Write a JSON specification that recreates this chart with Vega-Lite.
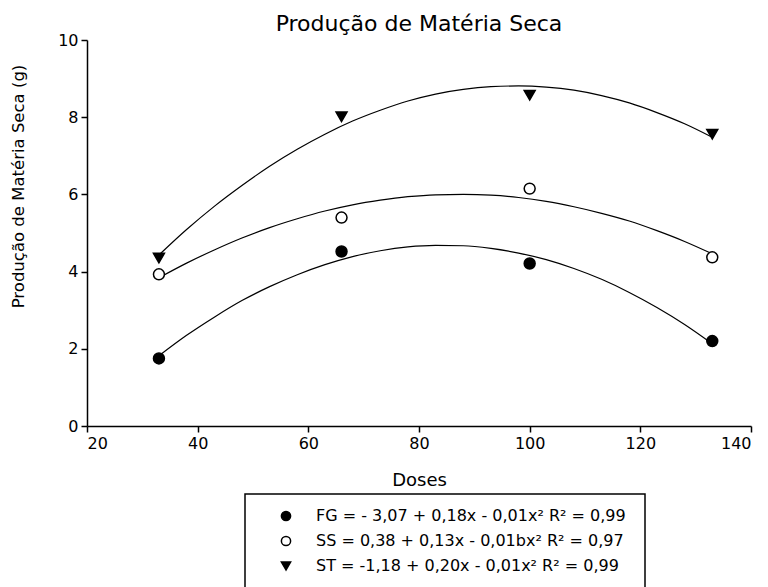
{
  "$schema": "https://vega.github.io/schema/vega-lite/v6.json",
  "autosize": {"type": "none"},
  "padding": {"left": 87, "top": 40, "right": 17, "bottom": 161},
  "width": 664,
  "height": 386,
  "background": "white",
  "title": {
    "text": "Produção de Matéria Seca",
    "font": "DejaVu Sans",
    "fontSize": 22,
    "fontWeight": "normal",
    "color": "black",
    "anchor": "middle",
    "offset": -4
  },
  "config": {
    "view": {"stroke": null},
    "font": "DejaVu Sans",
    "axis": {
      "grid": false,
      "domainColor": "black",
      "domainWidth": 1.5,
      "tickColor": "black",
      "tickWidth": 1.5,
      "tickSize": 6,
      "labelColor": "black",
      "labelFont": "DejaVu Sans",
      "labelFontSize": 16,
      "labelPadding": 3,
      "titleColor": "black",
      "titleFont": "DejaVu Sans",
      "titleFontSize": 17,
      "titleFontWeight": "normal"
    },
    "legend": {
      "orient": "none",
      "legendX": 158,
      "legendY": 454,
      "strokeColor": "black",
      "strokeWidth": 1.5,
      "padding": 14,
      "direction": "vertical",
      "labelFont": "DejaVu Sans",
      "labelFontSize": 16,
      "labelColor": "black",
      "labelLimit": 600,
      "labelOffset": 22,
      "symbolOffset": 19,
      "rowPadding": 9,
      "symbolSize": 85,
      "symbolStrokeColor": "black",
      "symbolStrokeWidth": 1.5
    }
  },
  "datasets": {
    "pontos": [
      {"dose": 33, "mseca": 1.75, "serie": "FG"},
      {"dose": 66, "mseca": 4.52, "serie": "FG"},
      {"dose": 100, "mseca": 4.21, "serie": "FG"},
      {"dose": 133, "mseca": 2.20, "serie": "FG"},
      {"dose": 33, "mseca": 3.93, "serie": "SS"},
      {"dose": 66, "mseca": 5.40, "serie": "SS"},
      {"dose": 100, "mseca": 6.15, "serie": "SS"},
      {"dose": 133, "mseca": 4.37, "serie": "SS"},
      {"dose": 33, "mseca": 4.35, "serie": "ST"},
      {"dose": 66, "mseca": 8.01, "serie": "ST"},
      {"dose": 100, "mseca": 8.57, "serie": "ST"},
      {"dose": 133, "mseca": 7.56, "serie": "ST"}
    ],
    "curvas": [
      {"dose": 33, "mseca": 1.82, "serie": "FG"},
      {"dose": 38, "mseca": 2.35, "serie": "FG"},
      {"dose": 43, "mseca": 2.82, "serie": "FG"},
      {"dose": 48, "mseca": 3.25, "serie": "FG"},
      {"dose": 53, "mseca": 3.61, "serie": "FG"},
      {"dose": 58, "mseca": 3.92, "serie": "FG"},
      {"dose": 63, "mseca": 4.18, "serie": "FG"},
      {"dose": 68, "mseca": 4.39, "serie": "FG"},
      {"dose": 73, "mseca": 4.54, "serie": "FG"},
      {"dose": 78, "mseca": 4.64, "serie": "FG"},
      {"dose": 83, "mseca": 4.68, "serie": "FG"},
      {"dose": 88, "mseca": 4.67, "serie": "FG"},
      {"dose": 93, "mseca": 4.60, "serie": "FG"},
      {"dose": 98, "mseca": 4.48, "serie": "FG"},
      {"dose": 103, "mseca": 4.31, "serie": "FG"},
      {"dose": 108, "mseca": 4.08, "serie": "FG"},
      {"dose": 113, "mseca": 3.80, "serie": "FG"},
      {"dose": 118, "mseca": 3.46, "serie": "FG"},
      {"dose": 123, "mseca": 3.07, "serie": "FG"},
      {"dose": 128, "mseca": 2.63, "serie": "FG"},
      {"dose": 133, "mseca": 2.13, "serie": "FG"},
      {"dose": 33, "mseca": 3.84, "serie": "SS"},
      {"dose": 38, "mseca": 4.22, "serie": "SS"},
      {"dose": 43, "mseca": 4.56, "serie": "SS"},
      {"dose": 48, "mseca": 4.87, "serie": "SS"},
      {"dose": 53, "mseca": 5.14, "serie": "SS"},
      {"dose": 58, "mseca": 5.37, "serie": "SS"},
      {"dose": 63, "mseca": 5.57, "serie": "SS"},
      {"dose": 68, "mseca": 5.73, "serie": "SS"},
      {"dose": 73, "mseca": 5.85, "serie": "SS"},
      {"dose": 78, "mseca": 5.94, "serie": "SS"},
      {"dose": 83, "mseca": 5.99, "serie": "SS"},
      {"dose": 88, "mseca": 6.00, "serie": "SS"},
      {"dose": 93, "mseca": 5.98, "serie": "SS"},
      {"dose": 98, "mseca": 5.92, "serie": "SS"},
      {"dose": 103, "mseca": 5.82, "serie": "SS"},
      {"dose": 108, "mseca": 5.68, "serie": "SS"},
      {"dose": 113, "mseca": 5.51, "serie": "SS"},
      {"dose": 118, "mseca": 5.31, "serie": "SS"},
      {"dose": 123, "mseca": 5.06, "serie": "SS"},
      {"dose": 128, "mseca": 4.78, "serie": "SS"},
      {"dose": 133, "mseca": 4.46, "serie": "SS"},
      {"dose": 33, "mseca": 4.43, "serie": "ST"},
      {"dose": 38, "mseca": 5.09, "serie": "ST"},
      {"dose": 43, "mseca": 5.69, "serie": "ST"},
      {"dose": 48, "mseca": 6.23, "serie": "ST"},
      {"dose": 53, "mseca": 6.73, "serie": "ST"},
      {"dose": 58, "mseca": 7.17, "serie": "ST"},
      {"dose": 63, "mseca": 7.56, "serie": "ST"},
      {"dose": 68, "mseca": 7.90, "serie": "ST"},
      {"dose": 73, "mseca": 8.18, "serie": "ST"},
      {"dose": 78, "mseca": 8.42, "serie": "ST"},
      {"dose": 83, "mseca": 8.60, "serie": "ST"},
      {"dose": 88, "mseca": 8.72, "serie": "ST"},
      {"dose": 93, "mseca": 8.79, "serie": "ST"},
      {"dose": 98, "mseca": 8.81, "serie": "ST"},
      {"dose": 103, "mseca": 8.78, "serie": "ST"},
      {"dose": 108, "mseca": 8.70, "serie": "ST"},
      {"dose": 113, "mseca": 8.56, "serie": "ST"},
      {"dose": 118, "mseca": 8.37, "serie": "ST"},
      {"dose": 123, "mseca": 8.12, "serie": "ST"},
      {"dose": 128, "mseca": 7.83, "serie": "ST"},
      {"dose": 133, "mseca": 7.48, "serie": "ST"}
    ]
  },
  "layer": [
    {
      "data": {"name": "curvas"},
      "mark": {"type": "line", "color": "black", "strokeWidth": 1.2, "interpolate": "monotone"},
      "encoding": {
        "x": {
          "field": "dose", "type": "quantitative",
          "scale": {"domain": [20, 140], "nice": false, "zero": false},
          "axis": {"values": [20, 40, 60, 80, 100, 120, 140], "title": "Doses", "titleFontSize": 18, "titleBaseline": "middle", "titleY": 54}
        },
        "y": {
          "field": "mseca", "type": "quantitative",
          "scale": {"domain": [0, 10], "nice": false},
          "axis": {"values": [0, 2, 4, 6, 8, 10], "title": "Produção de Matéria Seca (g)", "titleFontSize": 16.5, "titleBaseline": "middle", "titleX": -69, "titleY": 146}
        },
        "detail": {"field": "serie", "type": "nominal"}
      }
    },
    {
      "data": {"name": "pontos"},
      "mark": {"type": "point", "filled": true, "strokeWidth": 1.5, "size": 120, "opacity": 1},
      "encoding": {
        "x": {"field": "dose", "type": "quantitative"},
        "y": {"field": "mseca", "type": "quantitative"},
        "shape": {
          "field": "serie", "type": "nominal",
          "scale": {"domain": ["FG", "SS", "ST"], "range": ["circle", "circle", "triangle-down"]},
          "legend": {
            "title": null,
            "labelExpr": "datum.label == 'FG' ? 'FG =  - 3,07 + 0,18x - 0,01x² R² = 0,99' : datum.label == 'SS' ? 'SS = 0,38 + 0,13x - 0,01bx² R² = 0,97' : 'ST =  -1,18 + 0,20x - 0,01x² R² = 0,99'"
          }
        },
        "fill": {
          "field": "serie", "type": "nominal",
          "scale": {"domain": ["FG", "SS", "ST"], "range": ["black", "white", "black"]},
          "legend": {
            "title": null,
            "labelExpr": "datum.label == 'FG' ? 'FG =  - 3,07 + 0,18x - 0,01x² R² = 0,99' : datum.label == 'SS' ? 'SS = 0,38 + 0,13x - 0,01bx² R² = 0,97' : 'ST =  -1,18 + 0,20x - 0,01x² R² = 0,99'"
          }
        },
        "stroke": {
          "field": "serie", "type": "nominal",
          "scale": {"domain": ["FG", "SS", "ST"], "range": ["black", "black", "black"]},
          "legend": {
            "title": null,
            "labelExpr": "datum.label == 'FG' ? 'FG =  - 3,07 + 0,18x - 0,01x² R² = 0,99' : datum.label == 'SS' ? 'SS = 0,38 + 0,13x - 0,01bx² R² = 0,97' : 'ST =  -1,18 + 0,20x - 0,01x² R² = 0,99'"
          }
        }
      }
    }
  ]
}
